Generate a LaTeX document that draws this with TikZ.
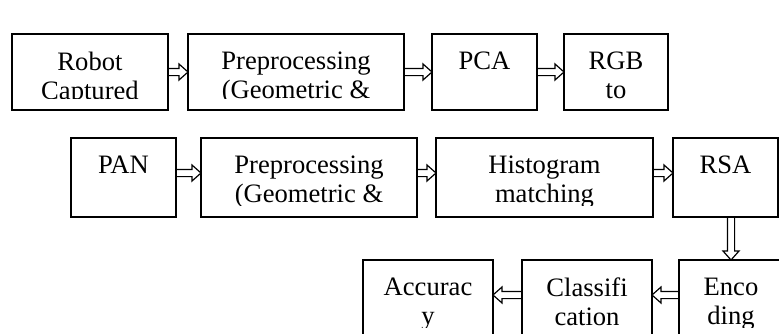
\documentclass[tikz,border=0pt]{standalone}
\usepackage{fontspec}
\setmainfont{Liberation Serif}
\usepackage{tikz}
\usetikzlibrary{calc,positioning}

\begin{document}
\begin{tikzpicture}[
  x=0.5pt, y=-0.5pt,
  box/.style={draw, line width=1pt, outer sep=0pt, inner sep=0pt, minimum height=39.5pt,
    path picture={
      \clip (path picture bounding box.north west) rectangle ([yshift=5.75pt]path picture bounding box.south east);
      \node[anchor=north, inner sep=0pt, minimum width=0pt, minimum height=0pt, align=center,
        font=\fontsize{13.3}{14.5}\selectfont]
        at ([yshift=-9.1pt]path picture bounding box.north) {#1};}},
  arr/.style={draw, line width=0.6pt, line join=miter, to path={
    ($(\tikztostart)!1.8pt!90:(\tikztotarget)$)
    -- ($(\tikztotarget)!4.5pt!(\tikztostart)!1.8pt!-90:(\tikztostart)$)
    -- ($(\tikztotarget)!4.5pt!(\tikztostart)!4pt!-90:(\tikztostart)$)
    -- (\tikztotarget)
    -- ($(\tikztotarget)!4.5pt!(\tikztostart)!4pt!90:(\tikztostart)$)
    -- ($(\tikztotarget)!4.5pt!(\tikztostart)!1.8pt!90:(\tikztostart)$)
    -- ($(\tikztostart)!1.8pt!-90:(\tikztotarget)$)}}
]
  \useasboundingbox (0,0) rectangle (779,333);
  \clip (0,0) rectangle (779,333);

  \node[box={Robot\\Captured}, minimum width=78pt, minimum height=38pt] (robot) at (90,72) {};
  \node[box={Preprocessing\\(Geometric \&}, minimum width=108pt, minimum height=38pt, right=10pt of robot] (prepa) {};
  \node[box=PCA, minimum width=52.5pt, minimum height=38pt, right=14pt of prepa] (pca) {};
  \node[box={RGB\\to}, minimum width=52pt, minimum height=38pt, right=13.5pt of pca] (rgb) {};

  \node[box=PAN, minimum width=52.5pt] (pan) at (123.5,177.5) {};
  \node[box={Preprocessing\\(Geometric \&}, minimum width=108pt, right=12.5pt of pan] (prepb) {};
  \node[box={Histogram\\matching}, minimum width=108.5pt, right=9.5pt of prepb] (hist) {};
  \node[box=RSA, minimum width=52.5pt, right=10pt of hist] (rsa) {};

  \node[box={Enco\\ding}, minimum width=52pt] (enc) at (731,299.5) {};
  \node[box={Classifi\\cation}, minimum width=65pt, left=13.5pt of enc] (cls) {};
  \node[box={Accurac\\y}, minimum width=65pt, left=14.5pt of cls] (acc) {};

  \draw[arr] (robot.east) to (prepa.west);
  \draw[arr] (prepa.east) to (pca.west);
  \draw[arr] (pca.east) to (rgb.west);
  \draw[arr] ([yshift=2.25pt]pan.east) to ([yshift=2.25pt]prepb.west);
  \draw[arr] ([yshift=2.25pt]prepb.east) to ([yshift=2.25pt]hist.west);
  \draw[arr] ([yshift=2.25pt]hist.east) to ([yshift=2.25pt]rsa.west);
  \draw[arr] (enc.north |- rsa.south) to (enc.north);
  \draw[arr] ([yshift=2.25pt]enc.west) to ([yshift=2.25pt]cls.east);
  \draw[arr] ([yshift=2.25pt]cls.west) to ([yshift=2.25pt]acc.east);
\end{tikzpicture}
\end{document}
